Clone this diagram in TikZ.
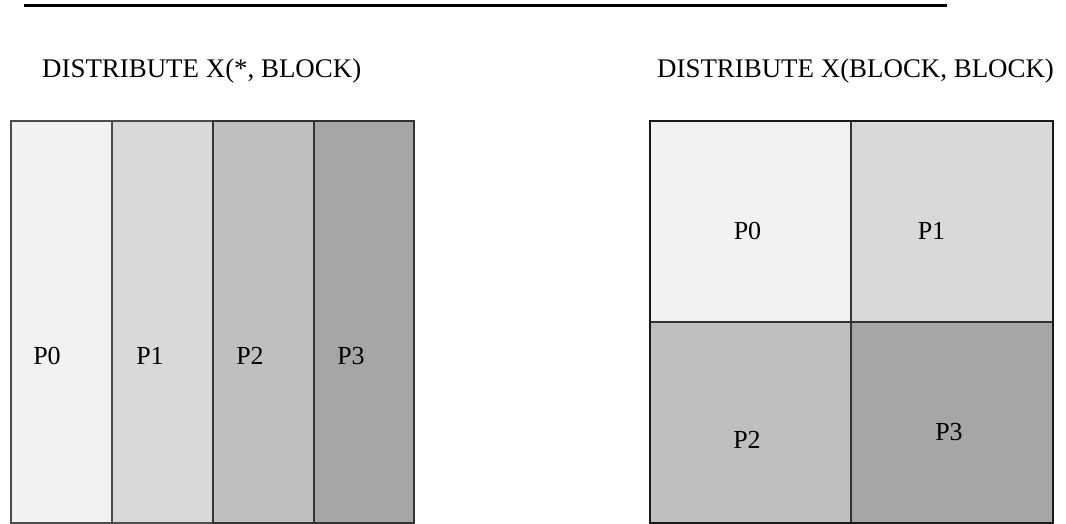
\documentclass[tikz,border=0pt]{standalone}
\usepackage{fontspec}
\setmainfont{Liberation Serif}
\begin{document}
\begin{tikzpicture}[x=1pt,y=-1pt,
  title/.style={anchor=base west, inner sep=0pt, font=\fontsize{26.9}{30}\selectfont},
  plabel/.style={anchor=base, inner sep=0pt, font=\fontsize{26}{30}\selectfont}]
\definecolor{shadeA}{HTML}{F2F2F2}
\definecolor{shadeB}{HTML}{D9D9D9}
\definecolor{shadeC}{HTML}{BFBFBF}
\definecolor{shadeD}{HTML}{A6A6A6}
\useasboundingbox (0,0) rectangle (1066,524);

% rule across the top
\coordinate (ruleL) at (24,5.5);
\coordinate (ruleR) at (947,5.5);
\draw[line width=3.5pt] (ruleL) -- (ruleR);

% headings
\node[title] (tleft) at (42,78) {DISTRIBUTE X(*, BLOCK)};
\node[title] (tright) at (657,78) {DISTRIBUTE X(BLOCK, BLOCK)};

% column distribution: four vertical strips
\filldraw[fill=shadeA, draw=black!70, line width=1.6pt] (11,121) rectangle (112,523);
\filldraw[fill=shadeB, draw=black!70, line width=1.6pt] (112,121) rectangle (213,523);
\filldraw[fill=shadeC, draw=black!80, line width=1.6pt] (213,121) rectangle (314,523);
\filldraw[fill=shadeD, draw=black!80, line width=1.6pt] (314,121) rectangle (414,523);
\node[plabel] (lp0) at (47,364) {P0};
\node[plabel] (lp1) at (150,364) {P1};
\node[plabel] (lp2) at (250,364) {P2};
\node[plabel] (lp3) at (351,364) {P3};

% block distribution: 2 x 2 blocks
\filldraw[fill=shadeA, draw=black!80, line width=1.3pt] (650,121) rectangle (851,322);
\filldraw[fill=shadeB, draw=black!80, line width=1.3pt] (851,121) rectangle (1053,322);
\filldraw[fill=shadeC, draw=black!80, line width=1.3pt] (650,322) rectangle (851,523);
\filldraw[fill=shadeD, draw=black!80, line width=1.3pt] (851,322) rectangle (1053,523);
\draw[black!90, line width=1.3pt] (650,121) rectangle (1053,523);
\node[plabel] (rp0) at (747.5,239) {P0};
\node[plabel] (rp1) at (931.5,239) {P1};
\node[plabel] (rp2) at (747,448) {P2};
\node[plabel] (rp3) at (949,440) {P3};
\end{tikzpicture}
\end{document}
